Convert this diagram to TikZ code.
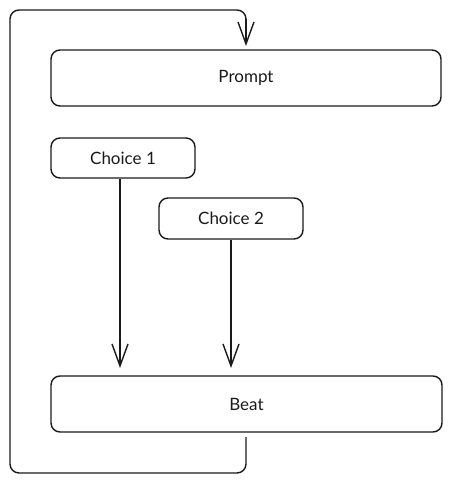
\documentclass[tikz,border=0pt]{standalone}
\usepackage{fontspec}
\setmainfont{Lato}
\usetikzlibrary{arrows.meta}
\definecolor{ink}{HTML}{1A1A1A}
\tikzset{
  box/.style={draw=ink, line width=1.4pt, rounded corners=9pt, inner sep=0pt, font=\fontsize{17}{19}\selectfont, text=ink},
  conn/.style={draw=ink, line width=1.4pt, -{Straight Barb[length=22pt,width=16pt,line width=1.4pt]}},
  loopline/.style={draw=ink, line width=1.4pt, rounded corners=9pt}
}
\begin{document}
\begin{tikzpicture}[x=1pt,y=-1pt]
\useasboundingbox (0,0) rectangle (452,482);
\node[box, minimum width=390pt, minimum height=56pt] (prompt) at (246,78) {Prompt};
\node[box, minimum width=144pt, minimum height=40pt] (c1) at (123,158) {Choice 1};
\node[box, minimum width=144pt, minimum height=41pt] (c2) at (231,218.5) {Choice 2};
\node[box, minimum width=391pt, minimum height=56pt] (beat) at (246.5,404) {Beat};
\coordinate (t1) at (120,368);
\coordinate (t2) at (231,368);
\draw[conn] (c1.south -| t1) -- (t1);
\draw[conn] (c2.south) -- (t2);
\coordinate (bstart) at (246,437);
\coordinate (ptip) at (246,46);
\draw[loopline] (bstart) -- (246,473) -- (10,473) -- (10,10) -- (246,10) -- (246,20);
\draw[conn] (246,19) -- (ptip);
\end{tikzpicture}
\end{document}
